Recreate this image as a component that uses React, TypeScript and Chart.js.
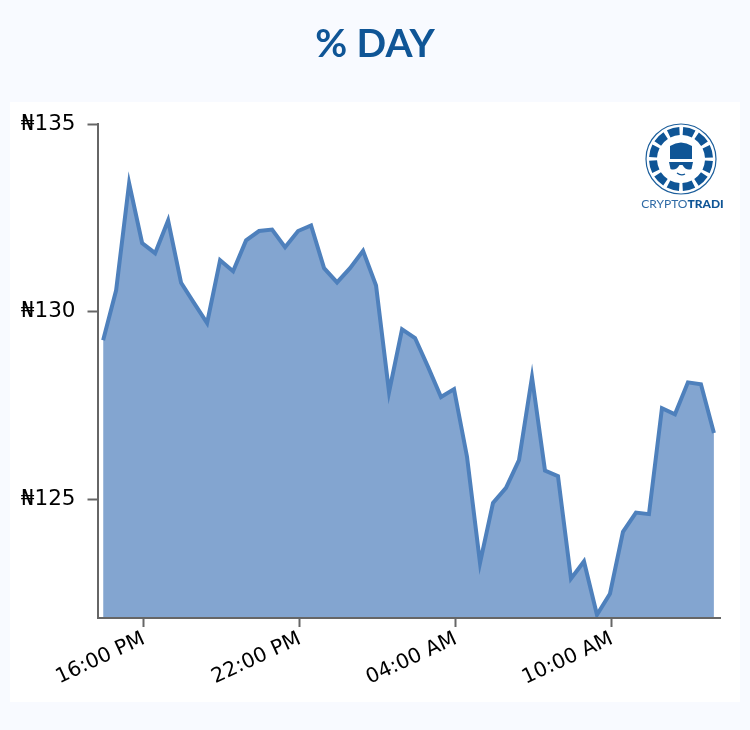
import React, { useEffect, useRef } from "react";
import { Chart, registerables } from "chart.js";

Chart.register(...registerables);

const titleText = "% DAY";
const firstMinute = 26;
const stepMinutes = 30;
const prices = [
  129.24, 130.57, 133.42, 131.83, 131.56, 132.43, 130.77, 130.23, 129.7, 131.37, 131.08, 131.9,
  132.15, 132.19, 131.72, 132.15, 132.3, 131.16, 130.78, 131.16, 131.62, 130.7, 127.86, 129.53,
  129.3, 128.53, 127.73, 127.94, 126.14, 123.31, 124.91, 125.31, 126.05, 128.26, 125.77, 125.62,
  122.89, 123.35, 121.93, 122.49, 124.14, 124.65, 124.61, 127.43, 127.27, 128.12, 128.07, 126.77,
];
const minutes = prices.map((_, i) => firstMinute + i * stepMinutes);
const xTickValues = [120, 480, 840, 1200];
const xTickLabels = ["16:00 PM", "22:00 PM", "04:00 AM", "10:00 AM"];
const yTickValues = [125, 130, 135];

const AXIS = "#666666";

const pageBackground = {
  id: "pageBackground",
  beforeDraw(chart: any) {
    const { ctx, width, height } = chart;
    ctx.save();
    ctx.fillStyle = "#f8faff";
    ctx.fillRect(0, 0, width, height);
    ctx.fillStyle = "#ffffff";
    ctx.fillRect(10, 102, 730, 600);
    ctx.restore();
  },
};

function Logo() {
  return (
    <svg
      width={90}
      height={96}
      viewBox="0 0 90 96"
      style={{ position: "absolute", left: 636, top: 120 }}
    >
      <circle cx={45} cy={39} r={35} fill="none" stroke="#1d5f9c" strokeWidth={1.2} />
      <circle
        cx={45}
        cy={39}
        r={28}
        fill="none"
        stroke="#0f5596"
        strokeWidth={8}
        strokeDasharray="11.2 3.46"
        strokeDashoffset={-1.73}
      />
      <path d="M34 39 V26 Q45 19 56 26 V39 Z" fill="#0f5596" />
      <path d="M33 42 H57 L55.5 49 Q50 51 46.5 45 H43.5 Q40 51 34.5 49 Z" fill="#0f5596" />
      <path d="M41 53 Q45 56 49 54" fill="none" stroke="#0f5596" strokeWidth={1.3} />
      <text x={46.5} y={88} textAnchor="middle" fontFamily="Lato" fontSize={12} fill="#2f6aa5">
        CRYPTO
        <tspan fontWeight={900} fill="#0f5596">
          TRADI
        </tspan>
      </text>
    </svg>
  );
}

export default function App() {
  const ref = useRef<HTMLCanvasElement>(null);

  useEffect(() => {
    const chart = new Chart(ref.current as HTMLCanvasElement, {
      type: "line",
      data: {
        datasets: [
          {
            data: minutes.map((m, i) => ({ x: m, y: prices[i] })),
            borderColor: "#4e80bc",
            backgroundColor: "#83a5d0",
            borderWidth: 4,
            borderJoinStyle: "miter",
            borderCapStyle: "butt",
            pointRadius: 0,
            tension: 0,
            fill: "start",
          },
        ],
      },
      options: {
        animation: false,
        responsive: false,
        devicePixelRatio: 1,
        layout: { padding: { left: 0, right: 30, top: 124, bottom: 0 } },
        plugins: {
          legend: { display: false },
          tooltip: { enabled: false },
          title: { display: false },
        },
        scales: {
          x: {
            type: "linear",
            min: 13,
            max: 1450,
            afterFit(scale: any) {
              scale.height = 112;
            },
            afterBuildTicks(scale: any) {
              scale.ticks = xTickValues.map((value) => ({ value }));
            },
            border: { color: AXIS, width: 2, z: 1 },
            grid: { drawOnChartArea: false, drawTicks: true, tickLength: 9, tickColor: AXIS, tickWidth: 2 },
            ticks: {
              autoSkip: false,
              maxRotation: 25,
              minRotation: 25,
              color: "#000000",
              padding: 0,
              font: { family: "DejaVu Sans", size: 20.5 },
              callback: (v: any) => xTickLabels[xTickValues.indexOf(Number(v))],
            },
          },
          y: {
            type: "linear",
            min: 121.844,
            max: 135,
            afterFit(scale: any) {
              scale.width = 97.5;
            },
            afterBuildTicks(scale: any) {
              scale.ticks = yTickValues.map((value) => ({ value }));
            },
            border: { color: AXIS, width: 2, z: 1 },
            grid: { drawOnChartArea: false, drawTicks: true, tickLength: 10, tickColor: AXIS, tickWidth: 2 },
            ticks: {
              color: "#000000",
              padding: 12,
              font: { family: "DejaVu Sans", size: 21.5 },
              callback: (v: any) => `₦${v}`,
            },
          },
        },
      },
      plugins: [pageBackground],
    } as any);
    return () => chart.destroy();
  }, []);

  return (
    <div style={{ position: "absolute", left: 0, top: 0, width: 750, height: 730, overflow: "hidden" }}>
      <canvas ref={ref} width={750} height={730} style={{ display: "block" }} />
      <div
        style={{
          position: "absolute",
          left: 0,
          top: 23,
          width: 750,
          textAlign: "center",
          color: "#0f5596",
          font: "bold 39px/39px Lato",
        }}
      >
        {titleText}
      </div>
      <Logo />
    </div>
  );
}
